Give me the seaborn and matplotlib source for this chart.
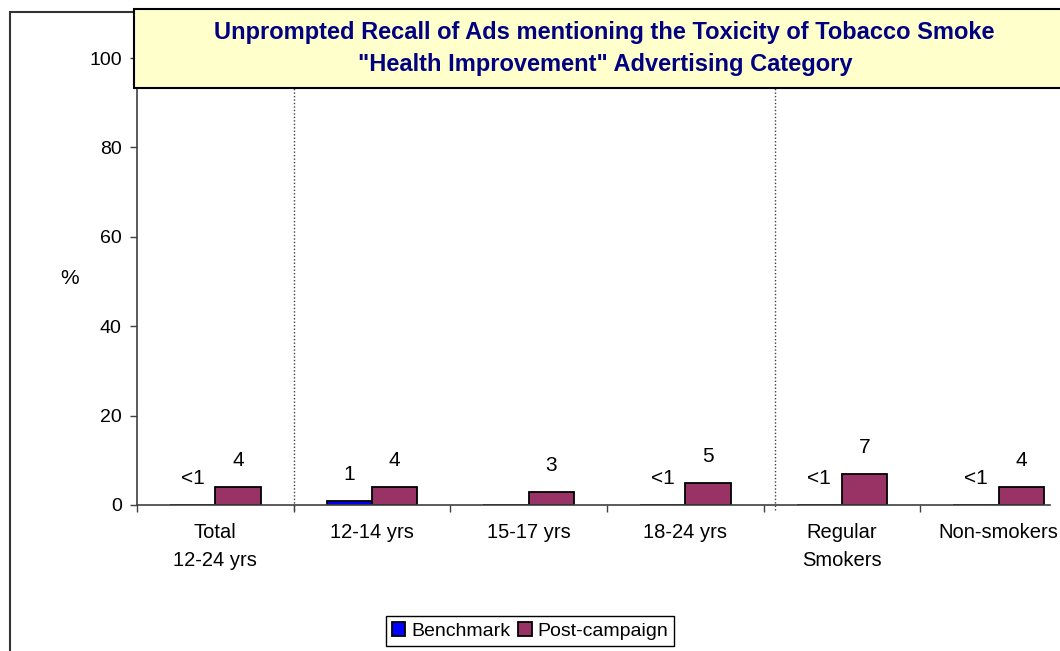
import seaborn as sns
import matplotlib.pyplot as plt
import pandas as pd
from matplotlib.patches import Rectangle

# Datos del gráfico
categories = ["Total\n12-24 yrs", "12-14 yrs", "15-17 yrs", "18-24 yrs", "Regular\nSmokers", "Non-smokers"]
benchmark = [0, 1, 0, 0, 0, 0]
benchmark_labels = ["<1", "1", "", "<1", "<1", "<1"]
post_campaign = [4, 4, 3, 5, 7, 4]
post_labels = ["4", "4", "3", "5", "7", "4"]
series = ["Benchmark", "Post-campaign"]
colors = ["#0000FF", "#993366"]

df = pd.DataFrame({
    "category": categories * 2,
    "series": [series[0]] * len(categories) + [series[1]] * len(categories),
    "value": benchmark + post_campaign,
})

sns.set_style("ticks")
plt.rcParams['font.family'] = ['Liberation Sans', 'DejaVu Sans']
plt.rcParams['text.color'] = 'black'
plt.rcParams['xtick.labelcolor'] = 'black'
plt.rcParams['ytick.labelcolor'] = 'black'

fig = plt.figure(figsize=(10.6, 6.51), dpi=100)
ax = fig.add_axes([0.1292, 0.2243, 0.8868, 0.6866])

sns.barplot(data=df, x="category", y="value", hue="series", palette=colors,
            width=0.58, saturation=1, edgecolor="black", linewidth=1.3, ax=ax,
            legend=True)

# Etiquetas de datos
for container, labels in zip(ax.containers, [benchmark_labels, post_labels]):
    for bar, lab in zip(container, labels):
        if lab:
            ax.annotate(lab, (bar.get_x() + bar.get_width() / 2, bar.get_height()),
                        xytext=(0, 19), textcoords="offset points",
                        ha="center", va="center", fontsize=15)

# Ejes
ax.set_ylim(0, 100)
ax.set_xlim(-0.5, 5.5)
ax.set_yticks(range(0, 101, 20))
ax.set_xticks([i - 0.5 for i in range(6)])
ax.set_xticklabels([])
ax.set_xticks(range(6), minor=True)
ax.set_xticklabels(categories, minor=True, linespacing=1.6)
ax.tick_params(axis="x", which="minor", length=0, pad=13, labelsize=14.5)
ax.tick_params(axis="x", which="major", length=5, width=1, color="#404040")
ax.tick_params(axis="y", length=5, width=1, color="#404040", labelsize=14, pad=6)
ax.set_xlabel("")
ax.set_ylabel("")
for s in ["top", "right"]:
    ax.spines[s].set_visible(False)
for s in ["left", "bottom"]:
    ax.spines[s].set_color("#404040")
    ax.spines[s].set_linewidth(1.2)
ax.spines["bottom"].set_bounds(-0.5, 5.33)

# Separadores punteados
for xv in [0.5, 3.57]:
    ax.axvline(xv, ymin=-0.012, ymax=1, color="#404040", linestyle=(0, (1, 1.5)),
               linewidth=1, clip_on=False, zorder=0)

fig.text(70 / 1060, 1 - 279 / 651, "%", fontsize=15, ha="center", va="center")

# Leyenda
handles, labels = ax.get_legend_handles_labels()
ax.get_legend().remove()
fig.legend(handles, labels, loc="center", bbox_to_anchor=(530 / 1060, 1 - 631 / 651),
           ncol=2, fontsize=14, frameon=True, fancybox=False, edgecolor="black",
           handlelength=0.7, handleheight=0.7, handletextpad=0.3, columnspacing=0.4,
           borderpad=0.3, framealpha=1)

# Borde exterior
fig.add_artist(Rectangle((10 / 1060, -0.1), 2, 1.1 - 12 / 651, transform=fig.transFigure,
                         facecolor="none", edgecolor="#333333", linewidth=1.5, zorder=-1))

# Caja del título
fig.add_artist(Rectangle((134 / 1060, 1 - 88 / 651), (1065 - 134) / 1060, 79 / 651,
                         transform=fig.transFigure, facecolor="#FFFFCC",
                         edgecolor="black", linewidth=1.5, zorder=5))
fig.text(604 / 1060, 1 - 32 / 651, "Unprompted Recall of Ads mentioning the Toxicity of Tobacco Smoke",
         ha="center", va="center", fontsize=17, fontweight="bold", color="#000080", zorder=6)
fig.text(605 / 1060, 1 - 65 / 651, "\"Health Improvement\" Advertising Category",
         ha="center", va="center", fontsize=17, fontweight="bold", color="#000080", zorder=6)

fig.savefig("out.png", dpi=100)
